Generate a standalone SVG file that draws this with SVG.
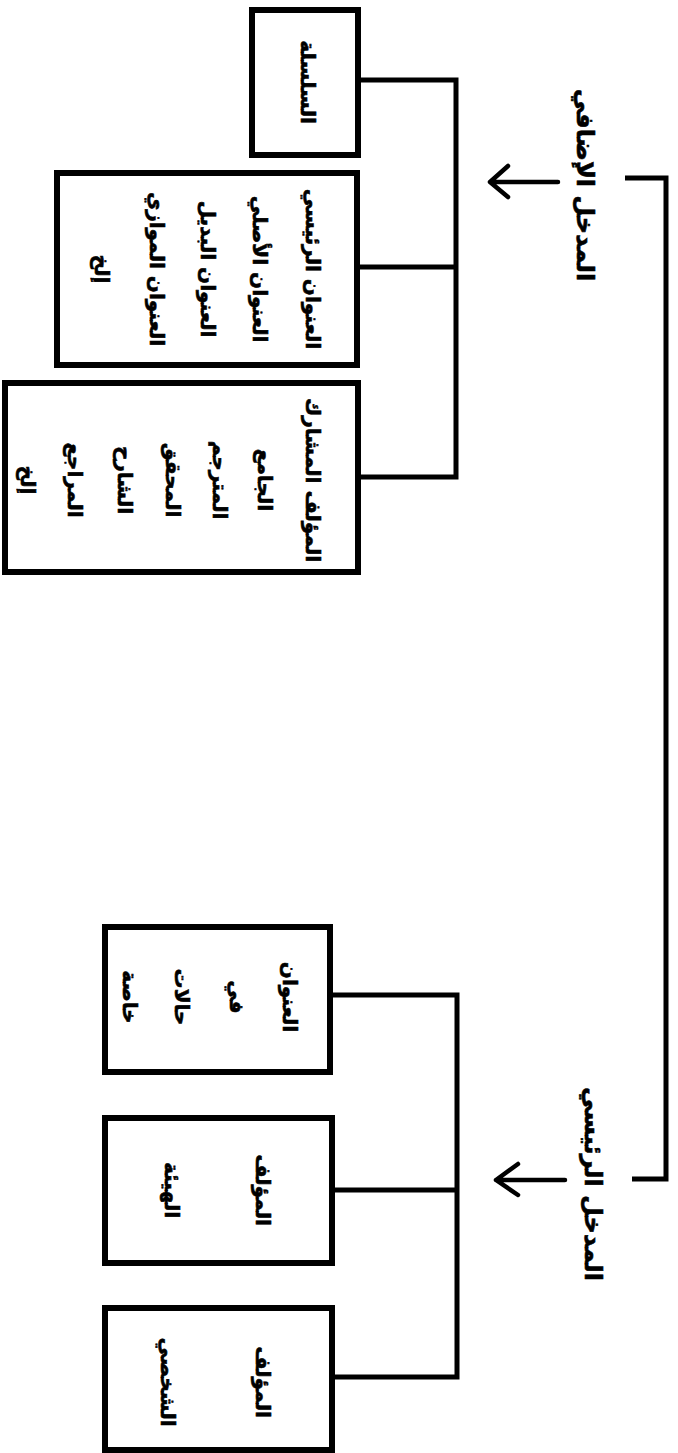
<svg xmlns="http://www.w3.org/2000/svg" width="678" height="1453" viewBox="0 0 678 1453">
<style>
.box{fill:#fff;stroke:#000;stroke-width:6}
.ln{fill:none;stroke:#000;stroke-width:5;stroke-linejoin:miter;stroke-linecap:butt}
.ar{fill:none;stroke:#000;stroke-width:4.5;stroke-linecap:round;stroke-linejoin:round}
text{font-family:"DejaVu Sans",sans-serif;font-weight:bold;font-size:20px;fill:#000;stroke:#000;stroke-width:0.6;text-anchor:middle;dominant-baseline:central}
.lbl{font-size:24px}
</style>
<rect width="678" height="1453" fill="#fff"/>
<g id="connectors">
<polyline class="ln" points="358,80 456,80 456,477 358,477"/>
<line class="ln" x1="357" y1="267" x2="456" y2="267"/>
<polyline class="ln" points="330,995 457,995 457,1377 330,1377"/>
<line class="ln" x1="330" y1="1190" x2="457" y2="1190"/>
<polyline class="ln" points="625,178 666,178 666,1179 632,1179"/>
<path class="ar" d="M558,182 H490 M508,166 L490,182 L508,197"/>
<path class="ar" d="M565,1180 H496 M518,1164 L496,1180 L518,1195"/>
</g>
<g id="label-added">
<text class="lbl" transform="translate(585,185) rotate(90)">المدخل الإضافي</text>
</g>
<g id="label-main">
<text class="lbl" transform="translate(593,1184) rotate(90)">المدخل الرئيسي</text>
</g>
<g id="node-series">
<rect class="box" x="252" y="10" width="106" height="145"/>
<text transform="translate(308,82) rotate(90)">السلسلة</text>
</g>
<g id="node-titles">
<rect class="box" x="57" y="173" width="300" height="192"/>
<text transform="translate(313,269) rotate(90)">العنوان الرئيسي</text>
<text transform="translate(260,269) rotate(90)">العنوان الأصلي</text>
<text transform="translate(208,269) rotate(90)">العنوان البديل</text>
<text transform="translate(157,269) rotate(90)">العنوان الموازي</text>
<text transform="translate(102,269) rotate(90)">إلخ</text>
</g>
<g id="node-contributors">
<rect class="box" x="5" y="383" width="353" height="189"/>
<text transform="translate(313,480) rotate(90)">المؤلف المشارك</text>
<text transform="translate(265,480) rotate(90)">الجامع</text>
<text transform="translate(220,480) rotate(90)">المترجم</text>
<text transform="translate(173,480) rotate(90)">المحقق</text>
<text transform="translate(125,480) rotate(90)">الشارح</text>
<text transform="translate(75,480) rotate(90)">المراجع</text>
<text transform="translate(28,480) rotate(90)">إلخ</text>
</g>
<g id="node-title-special">
<rect class="box" x="105" y="927" width="225" height="145"/>
<text transform="translate(290,997) rotate(90)">العنوان</text>
<text transform="translate(237,997) rotate(90)">في</text>
<text transform="translate(182,997) rotate(90)">حالات</text>
<text transform="translate(130,997) rotate(90)">خاصة</text>
</g>
<g id="node-corporate">
<rect class="box" x="105" y="1118" width="227" height="145"/>
<text transform="translate(263,1190) rotate(90)">المؤلف</text>
<text transform="translate(172,1190) rotate(90)">الهيئة</text>
</g>
<g id="node-personal">
<rect class="box" x="105" y="1308" width="227" height="142"/>
<text transform="translate(263,1382) rotate(90)">المؤلف</text>
<text transform="translate(168,1382) rotate(90)">الشخصي</text>
</g>
</svg>
